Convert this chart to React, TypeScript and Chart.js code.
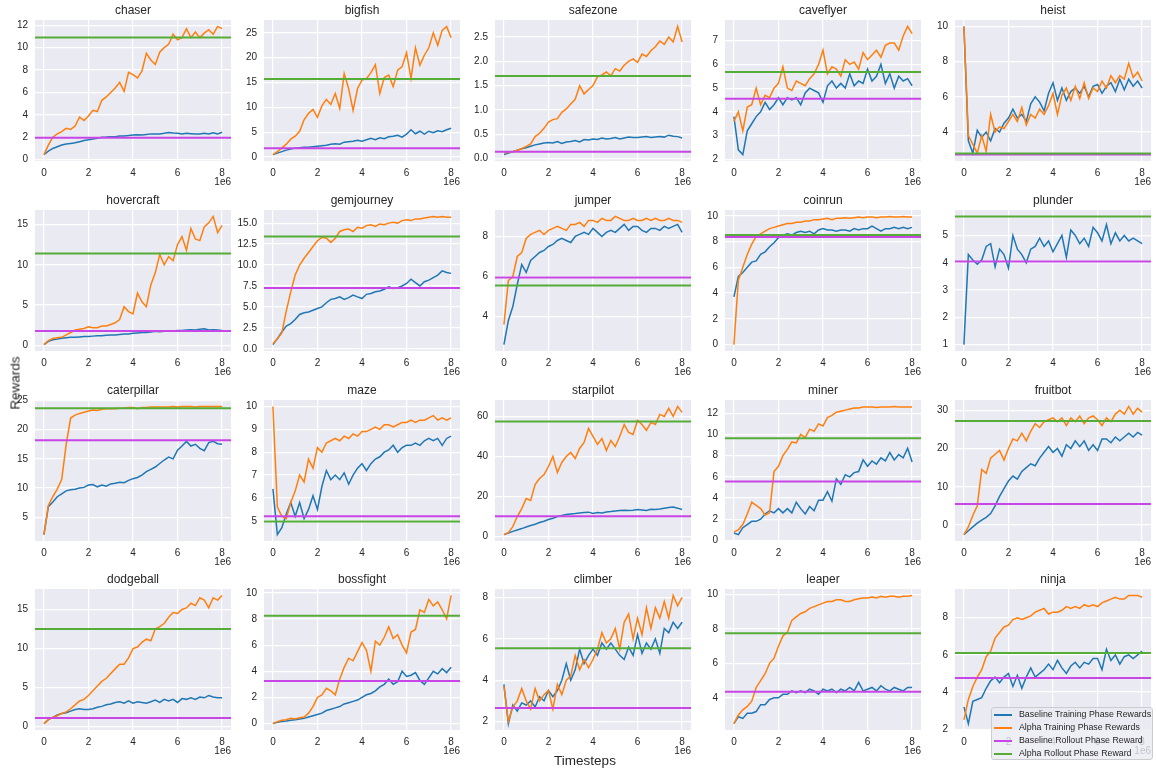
import React, { useEffect, useRef } from 'react';
import { Chart, registerables } from 'chart.js';

Chart.register(...registerables);

const FONT = '"Liberation Sans", Arial, Helvetica, sans-serif';
const TEXT = '#262626';
const C_BASE = '#1f77b4';
const C_ALPHA = '#ff7f0e';
const C_BASE_ROLL = '#c846e6';
const C_ALPHA_ROLL = '#55ad38';

const ENVS = ['chaser', 'bigfish', 'safezone', 'caveflyer', 'heist', 'hovercraft', 'gemjourney', 'jumper', 'coinrun', 'plunder', 'caterpillar', 'maze', 'starpilot', 'miner', 'fruitbot', 'dodgeball', 'bossfight', 'climber', 'leaper', 'ninja'];

const X_TICKS = [0, 2, 4, 6, 8];

// Training-phase rewards, sampled every 0.2e6 timesteps from 0 to 8e6
const chaserBaseline = [0.45,0.75,1.0,1.15,1.3,1.4,1.45,1.5,1.6,1.7,1.78,1.85,1.9,2.0,2.02,2.05,2.05,2.1,2.12,2.15,2.2,2.22,2.2,2.25,2.3,2.28,2.3,2.35,2.42,2.38,2.35,2.3,2.35,2.32,2.28,2.3,2.35,2.3,2.4,2.3,2.45];
const chaserAlpha = [0.45,1.3,2.0,2.3,2.5,2.8,2.7,3.0,3.8,3.5,3.9,4.4,4.3,5.3,5.6,6.0,6.4,6.9,6.1,7.8,7.6,7.3,7.9,9.5,8.9,8.5,9.6,10.0,10.3,11.2,10.7,10.9,11.7,10.9,11.4,10.9,11.3,11.6,11.2,11.9,11.7];
const bigfishBaseline = [0.5,0.8,1.1,1.4,1.6,1.8,1.9,2.0,2.0,2.1,2.2,2.3,2.4,2.6,2.7,2.6,3.0,3.1,3.2,3.4,3.2,3.5,3.8,3.5,3.9,3.7,4.1,4.2,4.4,4.0,4.6,5.5,4.7,5.2,4.6,5.2,4.9,5.3,5.1,5.5,5.8];
const bigfishAlpha = [0.5,1.1,1.8,2.6,3.6,4.2,5.2,7.5,8.8,9.6,8.0,10.3,11.6,10.6,12.8,9.8,16.8,13.8,9.4,13.8,15.5,15.8,17.0,18.6,12.8,16.0,16.5,14.2,17.5,18.2,21.0,15.8,22.0,18.5,20.5,22.0,25.0,22.5,25.5,26.3,24.0];
const safezoneBaseline = [0.08,0.11,0.14,0.17,0.2,0.22,0.25,0.28,0.3,0.32,0.33,0.32,0.35,0.31,0.34,0.35,0.37,0.34,0.39,0.38,0.40,0.39,0.42,0.40,0.41,0.43,0.40,0.42,0.44,0.43,0.43,0.44,0.45,0.43,0.44,0.45,0.44,0.48,0.46,0.45,0.42];
const safezoneAlpha = [0.12,0.13,0.14,0.17,0.2,0.25,0.3,0.45,0.52,0.62,0.75,0.8,0.82,0.95,1.02,1.12,1.22,1.5,1.33,1.42,1.5,1.68,1.72,1.78,1.7,1.85,1.8,1.92,2.0,2.05,1.98,2.15,2.1,2.22,2.3,2.42,2.35,2.5,2.4,2.72,2.4];
const caveflyerBaseline = [3.8,2.4,2.2,3.2,3.5,3.8,4.0,4.4,4.1,4.3,4.6,4.3,4.6,4.5,4.6,4.3,4.8,5.0,4.9,4.8,4.4,5.1,5.3,5.0,5.2,5.0,5.6,5.1,5.3,5.2,5.8,5.3,5.5,6.0,5.2,5.6,5.0,5.5,5.3,5.4,5.1];
const caveflyerAlpha = [3.6,4.0,3.2,4.2,4.3,5.0,4.3,4.7,4.6,5.0,5.2,5.9,5.0,4.9,5.3,5.2,5.1,5.4,5.6,6.0,6.6,5.6,5.9,5.8,5.5,6.2,6.0,6.1,5.8,6.5,6.2,6.4,6.6,6.3,6.8,6.9,6.9,6.6,7.2,7.6,7.3];
const heistBaseline = [10,3.5,2.8,4.1,3.7,4.0,3.5,4.2,4.0,4.5,4.8,5.3,4.8,5.0,4.6,5.6,6.0,5.7,5.2,6.2,6.8,5.8,6.5,5.8,6.3,6.5,6.2,6.6,6.0,6.6,6.7,6.2,6.6,6.8,6.3,7.0,6.4,7.0,6.6,6.9,6.5];
const heistAlpha = [10,3.8,3.3,2.8,3.8,2.9,5.0,4.0,4.3,4.2,4.6,5.0,4.6,5.4,4.4,5.0,4.8,5.3,5.0,5.5,6.2,5.0,6.1,6.5,5.8,6.6,5.9,6.8,5.9,6.5,6.3,6.9,6.5,7.2,6.8,7.2,7.0,7.9,7.1,7.4,6.9];
const hovercraftBaseline = [0.1,0.5,0.7,0.8,0.9,0.95,1.0,1.0,1.05,1.1,1.1,1.15,1.2,1.2,1.25,1.3,1.3,1.35,1.4,1.4,1.5,1.55,1.6,1.6,1.65,1.75,1.7,1.75,1.8,1.8,1.85,1.85,1.9,1.95,1.9,2.0,2.05,1.9,1.95,1.9,1.85];
const hovercraftAlpha = [0.1,0.6,0.85,0.95,1.0,1.3,1.6,1.9,2.0,2.1,2.3,2.2,2.2,2.4,2.4,2.6,2.8,3.2,4.8,4.2,3.9,6.5,5.4,4.8,7.5,9.0,11.3,10.0,11.0,10.5,12.5,13.5,11.8,14.5,13.2,13.0,14.7,15.2,16.0,14.0,14.9];
const gemjourneyBaseline = [0.5,1.2,2.0,2.7,3.0,3.5,4.1,4.3,4.4,4.6,4.8,5.0,5.5,5.9,6.0,6.2,5.9,6.1,6.4,6.2,6.0,6.5,6.6,6.8,6.9,7.1,7.4,7.2,7.3,7.5,7.8,8.3,7.9,7.5,8.0,8.2,8.5,8.8,9.3,9.1,9.0];
const gemjourneyAlpha = [0.6,1.2,1.9,4.5,6.8,8.8,10.0,10.8,11.5,12.2,12.9,13.3,13.2,12.7,13.2,14.0,14.2,14.3,14.0,14.5,14.4,14.7,14.8,14.6,14.9,14.8,15.0,15.1,15.0,15.3,15.4,15.3,15.5,15.5,15.6,15.7,15.8,15.7,15.8,15.7,15.7];
const jumperBaseline = [2.6,3.8,4.5,5.6,6.6,6.2,6.8,7.0,7.2,7.3,7.5,7.6,7.8,7.9,7.8,7.7,8.0,8.1,8.2,8.1,8.4,8.2,8.0,8.2,8.3,8.2,8.4,8.6,8.3,8.5,8.5,8.3,8.2,8.4,8.4,8.3,8.5,8.4,8.5,8.6,8.2];
const jumperAlpha = [3.6,5.8,6.0,7.0,7.2,7.9,8.1,8.2,8.3,8.1,8.3,8.4,8.5,8.4,8.3,8.6,8.6,8.7,8.5,8.8,8.8,8.7,8.9,8.8,8.8,9.0,8.9,8.8,8.8,8.9,8.8,8.8,8.9,8.8,8.9,8.8,8.8,8.9,8.8,8.8,8.7];
const coinrunBaseline = [3.7,5.3,5.6,6.0,6.4,6.5,7.0,7.2,7.6,7.9,8.3,8.5,8.6,8.5,8.7,8.8,8.7,8.8,8.6,8.9,9.0,8.9,8.9,8.8,8.9,8.9,8.8,9.0,8.9,9.0,9.0,9.2,9.0,8.8,9.0,9.0,9.1,9.0,9.1,9.0,9.1];
const coinrunAlpha = [0.0,5.0,6.0,7.0,7.8,8.4,8.6,8.8,9.0,9.1,9.2,9.3,9.4,9.4,9.5,9.5,9.6,9.6,9.7,9.7,9.75,9.8,9.7,9.8,9.8,9.85,9.8,9.85,9.9,9.85,9.9,9.9,9.85,9.9,9.9,9.95,9.9,9.9,9.95,9.9,9.9];
const plunderBaseline = [1.0,4.3,4.1,3.95,4.1,4.6,4.7,3.85,4.5,4.3,3.8,5.0,4.5,4.3,4.0,4.5,4.6,4.9,4.6,4.8,4.4,4.7,5.0,4.2,5.2,5.0,4.7,4.9,4.6,5.3,5.1,4.8,5.4,4.7,5.1,4.8,5.0,4.8,4.9,4.8,4.7];
const plunderAlpha: number[] = [];
const caterpillarBaseline = [2.0,6.8,7.6,8.5,9.0,9.5,9.7,9.8,10.0,10.1,10.5,10.6,10.2,10.5,10.3,10.7,10.8,11.0,10.9,11.3,11.6,11.8,12.2,12.8,13.2,13.6,14.2,14.8,15.3,15.0,16.5,17.2,18.0,17.2,17.5,16.8,16.4,17.8,18.0,17.6,17.5];
const caterpillarAlpha = [2.0,7.0,8.5,9.8,11.5,17.5,22.0,22.5,22.8,23.0,23.2,23.4,23.3,23.5,23.6,23.6,23.6,23.7,23.7,23.8,23.8,23.6,23.8,23.8,23.9,23.9,23.9,23.9,23.9,24.0,23.9,24.0,24.0,24.0,23.9,24.0,24.0,24.0,24.0,24.0,24.0];
const mazeBaseline = [6.4,4.4,4.7,5.3,5.8,5.2,5.8,5.1,5.5,6.1,5.5,6.5,7.2,6.8,7.0,6.8,7.1,6.6,7.0,7.3,7.5,7.2,7.5,7.7,7.8,8.0,8.1,8.3,8.0,8.2,8.3,8.3,8.4,8.3,8.5,8.6,8.5,8.6,8.3,8.6,8.7];
const mazeAlpha = [10,5.6,5.2,5.1,5.8,6.3,7.0,6.7,7.7,7.3,8.2,8.0,8.4,8.5,8.6,8.5,8.7,8.6,8.8,8.7,8.9,8.9,9.0,9.1,9.0,9.2,9.2,9.1,9.2,9.3,9.3,9.4,9.3,9.4,9.4,9.5,9.6,9.4,9.5,9.4,9.5];
const starpilotBaseline = [1.0,1.8,2.6,3.3,4.0,4.8,5.5,6.2,7.0,7.7,8.5,9.2,10.0,10.5,11.0,11.3,11.5,11.8,12.0,12.2,11.5,12.0,11.8,12.3,12.5,12.8,13.0,13.2,13.0,13.2,13.5,13.3,13.0,13.6,13.5,13.8,14.2,14.5,14.8,14.2,13.5];
const starpilotAlpha = [1,2,5,10,14,19,18,26,29,31,35,40,32,37,40,42,39,44,47,54,50,46,49,43,48,45,50,56,52,51,58,56,53,57,56,61,60,64,60,65,62];
const minerBaseline = [0.7,0.55,1.2,1.5,1.8,1.8,2.0,2.5,2.8,2.6,3.0,2.6,3.0,2.6,3.6,3.0,2.5,3.2,2.8,3.8,3.8,4.6,3.7,5.8,5.3,6.2,6.0,6.4,6.5,7.6,7.0,7.5,7.2,7.8,7.5,8.3,7.6,8.1,7.8,8.7,7.4];
const minerAlpha = [0.8,1.0,1.5,2.5,3.6,3.3,3.0,2.4,2.6,6.5,7.0,8.0,8.6,9.3,9.2,10.0,9.7,10.5,10.3,11.0,10.8,11.6,11.8,12.1,12.2,12.3,12.4,12.5,12.5,12.6,12.6,12.6,12.55,12.6,12.6,12.6,12.65,12.6,12.6,12.6,12.6];
const fruitbotBaseline = [-2.5,-1.5,-0.5,0.5,1.3,2.0,3.0,5.0,7.5,9.5,11.5,12.8,12.0,14.0,15.0,16.0,15.5,17.5,19.0,20.5,19.0,20.0,18.0,21.0,20.0,22.0,20.5,22.0,19.5,21.0,19.5,22.5,22.5,21.5,23.0,22.0,23.0,24.0,23.0,24.2,23.5];
const fruitbotAlpha = [-2.5,-0.5,2.5,5.0,14.5,13.5,17.5,18.5,19.5,17.0,20.0,22.5,22.0,24.0,22.0,24.5,26.5,25.5,27.0,27.5,28.0,27.0,28.0,26.0,28.0,27.0,28.5,26.5,28.0,28.5,27.5,26.0,28.0,27.0,29.0,30.0,29.0,31.0,29.0,30.5,29.5];
const dodgeballBaseline = [0.4,0.9,1.2,1.5,1.7,1.8,2.0,2.2,2.3,2.2,2.2,2.3,2.5,2.6,2.8,2.9,3.1,3.2,3.0,3.3,3.0,3.2,3.1,3.0,3.2,3.4,3.1,3.5,3.3,3.5,3.1,3.6,3.5,3.7,3.5,3.8,3.7,4.0,3.8,3.7,3.7];
const dodgeballAlpha = [0.4,0.9,1.2,1.4,1.7,1.9,2.3,2.8,3.3,3.5,4.0,4.6,5.2,5.8,6.2,6.8,7.4,8.0,8.0,8.8,10.0,10.2,10.8,11.2,11.0,12.5,12.8,13.2,14.0,14.6,14.5,15.0,15.2,15.8,15.5,16.5,16.2,15.2,16.5,16.2,16.8];
const bossfightBaseline = [0.0,0.1,0.15,0.2,0.25,0.3,0.35,0.4,0.5,0.6,0.7,0.8,1.0,1.1,1.2,1.3,1.5,1.6,1.7,1.8,2.0,2.2,2.3,2.5,2.8,3.0,3.4,3.0,3.2,4.0,3.6,3.7,3.9,3.3,3.0,3.5,4.0,3.8,4.2,3.9,4.3];
const bossfightAlpha = [0,0.15,0.25,0.3,0.4,0.35,0.45,0.5,0.8,1.3,2.0,2.2,2.7,2.5,2.2,3.4,4.3,5.0,4.8,5.5,6.2,5.6,4.0,6.3,6.0,6.6,7.4,6.5,6.8,6.0,5.4,7.0,7.2,8.7,8.5,9.5,9.0,9.3,8.7,8.0,9.8];
const climberBaseline = [3.8,1.9,2.8,2.5,2.9,2.8,3.0,2.7,3.2,3.0,3.5,3.2,3.5,4.0,4.8,4.0,4.5,5.5,4.8,5.2,5.5,5.2,5.8,5.5,5.8,5.5,5.2,5.0,5.6,5.2,6.2,5.3,5.8,5.5,6.0,5.3,6.5,6.3,6.8,6.5,6.8];
const climberAlpha = [3.7,2.0,2.7,3.0,3.6,3.0,2.6,3.6,3.0,3.3,3.5,2.6,3.8,3.3,4.0,4.2,5.2,4.5,5.0,4.6,5.0,5.5,6.3,5.8,6.0,6.5,5.5,6.8,7.2,6.0,7.0,6.2,7.5,6.5,7.5,7.0,7.8,7.0,8.1,7.6,8.0];
const leaperBaseline = [2.5,2.9,2.8,3.1,3.1,3.2,3.6,3.6,3.9,4.0,4.0,4.2,4.2,4.4,4.3,4.4,4.3,4.5,4.4,4.2,4.5,4.4,4.5,4.3,4.5,4.4,4.6,4.4,4.9,4.4,4.5,4.6,4.4,4.7,4.5,4.4,4.6,4.5,4.4,4.6,4.6];
const leaperAlpha = [2.5,3.0,3.3,3.5,3.8,4.6,5.0,5.4,6.0,6.3,7.0,7.6,7.8,8.5,8.7,8.9,9.0,9.2,9.3,9.4,9.5,9.6,9.6,9.7,9.7,9.6,9.6,9.7,9.75,9.8,9.8,9.85,9.8,9.9,9.85,9.9,9.9,9.85,9.9,9.9,9.95];
const ninjaBaseline = [3.2,2.3,3.5,3.6,3.7,4.2,4.6,4.8,4.5,4.8,5.0,4.3,4.9,4.2,4.8,5.3,4.8,5.0,5.2,5.5,5.2,5.7,5.3,5.0,5.4,5.6,5.3,5.6,5.5,5.8,5.8,5.2,6.3,5.7,6.0,5.5,5.9,6.0,5.8,6.0,6.2];
const ninjaAlpha = [2.5,3.6,4.3,4.8,5.2,5.9,6.2,6.9,7.2,7.5,7.6,7.9,8.0,7.9,8.0,8.1,8.3,8.4,8.5,8.2,8.3,8.3,8.4,8.6,8.5,8.6,8.5,8.7,8.6,8.7,8.6,8.8,8.9,9.0,9.1,9.0,9.0,9.2,9.2,9.2,9.1];

const BASELINE_TRAIN = [chaserBaseline, bigfishBaseline, safezoneBaseline, caveflyerBaseline, heistBaseline, hovercraftBaseline, gemjourneyBaseline, jumperBaseline, coinrunBaseline, plunderBaseline, caterpillarBaseline, mazeBaseline, starpilotBaseline, minerBaseline, fruitbotBaseline, dodgeballBaseline, bossfightBaseline, climberBaseline, leaperBaseline, ninjaBaseline];
const ALPHA_TRAIN = [chaserAlpha, bigfishAlpha, safezoneAlpha, caveflyerAlpha, heistAlpha, hovercraftAlpha, gemjourneyAlpha, jumperAlpha, coinrunAlpha, plunderAlpha, caterpillarAlpha, mazeAlpha, starpilotAlpha, minerAlpha, fruitbotAlpha, dodgeballAlpha, bossfightAlpha, climberAlpha, leaperAlpha, ninjaAlpha];

// Rollout-phase rewards (horizontal lines)
const BASELINE_ROLLOUT = [1.95, 1.8, 0.14, 4.55, 2.72, 1.8, 7.25, 5.95, 8.35, 4.05, 18.2, 5.2, 10.2, 5.55, 5.5, 1.1, 3.25, 2.65, 4.35, 4.75];
const ALPHA_ROLLOUT = [10.9, 15.7, 1.7, 5.68, 2.78, 11.4, 13.4, 5.55, 8.5, 5.7, 23.7, 4.97, 57.5, 9.65, 27.2, 12.5, 8.25, 5.55, 7.75, 6.1];

// y tick spacing and label decimals per subplot
const Y_STEP = [2, 5, 0.5, 1, 2, 5, 2.5, 2, 2, 1, 5, 1, 20, 2, 10, 5, 2, 2, 2, 2];
const Y_DECIMALS = [0, 0, 1, 0, 0, 0, 1, 0, 0, 0, 0, 0, 0, 0, 0, 0, 0, 0, 0, 0];

// layout (px)
const COL_LEFT = [35, 264, 495, 725, 955];
const ROW_TOP = [20, 210, 400, 589];
const AX_W = 196;
const AX_H = 141;
const PAD_L = 35;
const PAD_T = 20;
const PAD_R = 4;
const PAD_B = 30;
const X_MIN = -0.4;
const X_MAX = 8.4;

function toPoints(arr: number[]) {
  const n = arr.length;
  return arr.map((v, i) => ({ x: (i * 8) / (n - 1), y: v }));
}

const framePlugin = {
  id: 'frame',
  beforeDraw(chart: any) {
    const { ctx, chartArea: a } = chart;
    ctx.save();
    ctx.fillStyle = '#EAEAF2';
    ctx.fillRect(a.left, a.top, a.right - a.left, a.bottom - a.top);
    ctx.restore();
  },
  afterDraw(chart: any) {
    const { ctx, chartArea: a } = chart;
    const title = chart.options.plugins.frame.title;
    ctx.save();
    ctx.fillStyle = TEXT;
    ctx.font = `12px ${FONT}`;
    ctx.textAlign = 'center';
    ctx.textBaseline = 'middle';
    ctx.fillText(title, (a.left + a.right) / 2, a.top - 9);
    ctx.font = `10px ${FONT}`;
    ctx.textAlign = 'right';
    ctx.fillText('1e6', a.right, a.bottom + 21);
    ctx.restore();
  },
};

function SubPlot({ idx }: { idx: number }) {
  const ref = useRef<HTMLCanvasElement>(null);
  const r = Math.floor(idx / 5);
  const c = idx % 5;
  const W = PAD_L + AX_W + PAD_R;
  const H = PAD_T + AX_H + PAD_B;

  useEffect(() => {
    const base = BASELINE_TRAIN[idx];
    const alpha = ALPHA_TRAIN[idx];
    const all = [...base, ...alpha, BASELINE_ROLLOUT[idx], ALPHA_ROLLOUT[idx]];
    const lo = Math.min(...all);
    const hi = Math.max(...all);
    const m = (hi - lo) * 0.05;
    const yMin = lo - m;
    const yMax = hi + m;
    const step = Y_STEP[idx];
    const dec = Y_DECIMALS[idx];
    const yTicks: number[] = [];
    for (let k = Math.ceil((yMin - 1e-9) / step); k * step <= yMax + 1e-9; k++) yTicks.push(+(k * step).toFixed(4));

    const tickFont = { family: FONT, size: 10 };
    const chart = new Chart(ref.current as HTMLCanvasElement, {
      type: 'line',
      data: {
        datasets: [
          { label: 'Baseline Training Phase Rewards', data: toPoints(base), borderColor: C_BASE, borderWidth: 1.5, pointRadius: 0, order: 4 },
          { label: 'Alpha Training Phase Rewards', data: toPoints(alpha), borderColor: C_ALPHA, borderWidth: 1.5, pointRadius: 0, order: 3 },
          { label: 'Baseline Rollout Phase Reward', data: [{ x: X_MIN, y: BASELINE_ROLLOUT[idx] }, { x: X_MAX, y: BASELINE_ROLLOUT[idx] }], borderColor: C_BASE_ROLL, borderWidth: 2, pointRadius: 0, order: 2 },
          { label: 'Alpha Rollout Phase Reward', data: [{ x: X_MIN, y: ALPHA_ROLLOUT[idx] }, { x: X_MAX, y: ALPHA_ROLLOUT[idx] }], borderColor: C_ALPHA_ROLL, borderWidth: 2, pointRadius: 0, order: 1 },
        ],
      } as any,
      options: {
        responsive: false,
        animation: false,
        devicePixelRatio: 1,
        events: [],
        layout: { padding: { left: 0, top: PAD_T, right: PAD_R, bottom: 0 } },
        plugins: {
          legend: { display: false },
          tooltip: { enabled: false },
          frame: { title: ENVS[idx] },
        } as any,
        scales: {
          x: {
            type: 'linear',
            min: X_MIN,
            max: X_MAX,
            afterBuildTicks: (s: any) => { s.ticks = X_TICKS.map((v) => ({ value: v })); },
            afterFit: (s: any) => { s.height = PAD_B; },
            ticks: { color: TEXT, font: tickFont, padding: 6, maxRotation: 0, callback: (v: any) => String(v) },
            grid: { color: '#ffffff', lineWidth: 1.2, drawTicks: false },
            border: { display: false },
          },
          y: {
            type: 'linear',
            min: yMin,
            max: yMax,
            afterBuildTicks: (s: any) => { s.ticks = yTicks.map((v) => ({ value: v })); },
            afterFit: (s: any) => { s.width = PAD_L; },
            ticks: { color: TEXT, font: tickFont, padding: 7, callback: (v: any) => Number(v).toFixed(dec) },
            grid: { color: '#ffffff', lineWidth: 1.2, drawTicks: false },
            border: { display: false },
          },
        } as any,
      },
      plugins: [framePlugin],
    });
    return () => chart.destroy();
  }, [idx]);

  return (
    <canvas
      ref={ref}
      width={W}
      height={H}
      style={{ position: 'absolute', left: COL_LEFT[c] - PAD_L, top: ROW_TOP[r] - PAD_T, width: W, height: H }}
    />
  );
}

const LEGEND_ITEMS = [
  { label: 'Baseline Training Phase Rewards', color: C_BASE },
  { label: 'Alpha Training Phase Rewards', color: C_ALPHA },
  { label: 'Baseline Rollout Phase Reward', color: C_BASE_ROLL },
  { label: 'Alpha Rollout Phase Reward', color: C_ALPHA_ROLL },
];

export default function App() {
  return (
    <div style={{ position: 'fixed', left: 0, top: 0, width: 1156, height: 771, background: '#ffffff', fontFamily: FONT, overflow: 'hidden' }}>
      {ENVS.map((_, i) => <SubPlot key={i} idx={i} />)}
      <div style={{ position: 'absolute', left: 585, top: 760, transform: 'translate(-50%, -50%)', fontSize: 13.5, color: TEXT, whiteSpace: 'nowrap' }}>Timesteps</div>
      <div style={{ position: 'absolute', left: 15, top: 383, transform: 'translate(-50%, -50%) rotate(-90deg)', fontSize: 13.5, color: TEXT, whiteSpace: 'nowrap' }}>Rewards</div>
      <div style={{ position: 'absolute', left: 991, top: 707, width: 160, height: 51, background: 'rgba(234,234,242,0.8)', border: '1px solid #cccccc', borderRadius: 3, boxSizing: 'content-box', overflow: 'hidden' }}>
        {LEGEND_ITEMS.map((it, k) => (
          <div key={k} style={{ position: 'absolute', left: 0, top: k * 13, height: 13, display: 'flex', alignItems: 'center' }}>
            <div style={{ marginLeft: 2, width: 18, height: 2, background: it.color }} />
            <div style={{ marginLeft: 7, fontSize: 8.8, color: TEXT, whiteSpace: 'nowrap', lineHeight: '13px' }}>{it.label}</div>
          </div>
        ))}
      </div>
    </div>
  );
}
